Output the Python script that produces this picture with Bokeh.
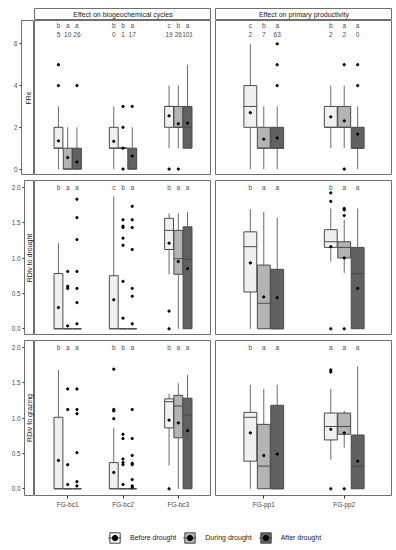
import math
from bokeh.plotting import figure
from bokeh.layouts import column, row, Spacer
from bokeh.models import (Label, FixedTicker, PrintfTickFormatter, Legend,
                          LegendItem, ColumnDataSource, Range1d)
from bokeh.core.properties import value
from bokeh.embed import file_html
from bokeh.resources import INLINE

# ---------------- data ----------------
effects = ["Effect on biogeochemical cycles", "Effect on primary productivity"]
effect_categories = [["FG-bc1", "FG-bc2", "FG-bc3"], ["FG-pp1", "FG-pp2"]]
treatments = ["Before drought", "During drought", "After drought"]
responses = ["FRe", "RDiv to drought", "RDiv to grazing"]

fre_ticks = [0, 2, 4, 6]
rdiv_ticks = [0.0, 0.5, 1.0, 1.5, 2.0]

# order: bc1 (B,D,A) | bc2 | bc3 | pp1 | pp2
fre_lower = [0, 0, 0, 0, 1, 0, 1, 1, 1, 0, 0, 0, 1, 1, 0]
fre_q1 = [1, 0, 0, 1, 1, 0, 2, 2, 1, 2, 1, 1, 2, 2, 1]
fre_med = [1, 0, 0, 1, 1, 0, 3, 2, 2, 3, 1, 1, 2, 2, 1]
fre_q3 = [2, 1, 1, 2, 1, 1, 3, 3, 3, 4, 2, 2, 3, 3, 2]
fre_upper = [3, 2, 2, 3, 1, 2, 4, 4, 5, 6, 3, 3, 4, 4, 3]
fre_mean = [1.35, 0.55, 0.34, 1.33, 1.0, 0.62, 2.55, 2.17, 2.2,
            2.7, 1.43, 1.49, 2.5, 2.31, 1.67]
fre_out = [[4, 5], [], [4], [], [0, 2, 3], [3], [0], [0], [],
           [], [], [4, 5, 6], [], [0, 5], [4, 5]]
fre_letters = ["b", "a", "a", "b", "b", "a", "c", "b", "a",
               "c", "b", "a", "b", "a", "a"]
fre_n = ["5", "10", "26", "0", "1", "17", "19", "26", "101",
         "2", "7", "63", "2", "2", "0"]

dr_lower = [0, 0, 0, 0, 0, 0, 0.77, 0, 0, 0, 0, 0, 0.95, 0.79, 0]
dr_q1 = [0, 0, 0, 0, 0, 0, 1.12, 0.77, 0, 0.52, 0, 0, 1.15, 1.0, 0]
dr_med = [0, 0, 0, 0, 0, 0, 1.39, 0.99, 0.98, 1.16, 0.36, 0, 1.23, 1.15, 0.78]
dr_q3 = [0.78, 0, 0, 0.75, 0, 0, 1.56, 1.39, 1.44, 1.37, 0.90, 0.84, 1.40, 1.23, 1.15]
dr_upper = [1.21, 0, 0, 1.87, 0, 0, 1.63, 1.63, 1.65, 1.69, 1.65, 1.57, 1.70, 1.54, 1.70]
dr_mean = [0.30, 0.04, 0.07, 0.41, 0.15, 0.07, 1.21, 0.95, 0.85,
           0.93, 0.45, 0.44, 1.16, 1.0, 0.57]
dr_out = [[], [0.57, 0.60, 0.81], [0.37, 0.57, 0.81, 1.26, 1.57, 1.83],
          [], [0.67, 1.18, 1.28, 1.43, 1.45, 1.54], [0.46, 0.57, 1.12, 1.43, 1.54, 1.73],
          [0, 0.25], [], [],
          [], [], [],
          [0, 1.80, 1.92], [0, 1.60, 1.68, 1.70], []]
dr_letters = ["b", "a", "a", "c", "b", "a", "b", "a", "a",
              "b", "a", "a", "b", "a", "a"]

gr_lower = [0, 0, 0, 0, 0, 0, 0.33, 0, 0, 0, 0, 0, 0.41, 0.58, 0]
gr_q1 = [0, 0, 0, 0, 0, 0, 0.86, 0.72, 0, 0.39, 0, 0, 0.69, 0.77, 0]
gr_med = [0, 0, 0, 0, 0, 0, 1.23, 1.17, 1.04, 1.01, 0.32, 0, 0.88, 0.88, 0.32]
gr_q3 = [1.01, 0, 0, 0.37, 0, 0, 1.27, 1.32, 1.28, 1.08, 0.91, 1.18, 1.07, 1.07, 0.76]
gr_upper = [1.68, 0, 0, 0.86, 0, 0, 1.34, 1.49, 1.61, 1.47, 1.41, 1.47, 1.41, 1.10, 1.73]
gr_mean = [0.40, 0.06, 0.04, 0.23, 0.06, 0.02, 0.97, 0.93, 0.82,
           0.79, 0.47, 0.49, 0.84, 0.79, 0.39]
gr_out = [[], [0.34, 1.12, 1.41], [0.10, 0.51, 1.06, 1.12, 1.41],
          [0.99, 1.10, 1.12, 1.69], [0.34, 0.37, 0.42, 0.71, 0.77],
          [0.04, 0.13, 0.34, 0.36, 0.47, 0.71, 1.12],
          [0], [], [],
          [], [], [],
          [0, 1.65, 1.68], [0], []]
gr_letters = ["b", "a", "a", "b", "b", "a", "b", "a", "a",
              "b", "a", "a", "a", "a", "a"]

row_stats = [
    dict(lo=fre_lower, q1=fre_q1, med=fre_med, q3=fre_q3, hi=fre_upper,
         mean=fre_mean, out=fre_out, letters=fre_letters, n=fre_n),
    dict(lo=dr_lower, q1=dr_q1, med=dr_med, q3=dr_q3, hi=dr_upper,
         mean=dr_mean, out=dr_out, letters=dr_letters, n=None),
    dict(lo=gr_lower, q1=gr_q1, med=gr_med, q3=gr_q3, hi=gr_upper,
         mean=gr_mean, out=gr_out, letters=gr_letters, n=None),
]

# ---------------- style ----------------
FONT = "Liberation Sans"
FILLS = ["#f0f0f0", "#b4b4b4", "#616161"]
OUTLINE = "#4a4a4a"
WHISK = "#6a6a6a"
BORDER = "#707070"
TXT = "#4d4d4d"

PAD = 8
STRIP_W = 26
PANEL_W = 177
GAP = 4
TOP_H = 12
PANEL_H = 155
ROW_GAP = 5
BOTTOM = 15
LEG_H = 38
TOTAL_W = STRIP_W + PANEL_W + GAP + PANEL_W

DODGE = 0.167
BOX_W = 0.16
PT = 2.3

y_ranges = [(-0.31, 7.12), (-0.095, 2.095), (-0.095, 2.095)]
letter_y = [6.9, 2.0, 2.0]
number_y = 6.45


def top_strip(title):
    s = figure(width=PANEL_W, height=TOP_H, x_range=(0, 1), y_range=(0, 1),
               toolbar_location=None, output_backend="svg", min_border=0,
               x_axis_location=None, y_axis_location=None,
               outline_line_color=BORDER)
    s.grid.visible = False
    s.add_layout(Label(x=0.5, y=0.5, text=title, text_align="center",
                       text_baseline="middle", text_font=FONT,
                       text_font_size="7px", text_color="#1a1a1a"))
    return s


def side_strip(r, yr, height, bottom):
    s = figure(width=STRIP_W, height=height, x_range=(0, 1), y_range=yr,
               toolbar_location=None, output_backend="svg", min_border=0,
               min_border_left=13, min_border_bottom=bottom,
               x_axis_location=None, y_axis_location="left",
               outline_line_color=BORDER)
    s.grid.visible = False
    ax = s.yaxis[0]
    if r == 0:
        ax.ticker = FixedTicker(ticks=fre_ticks)
    else:
        ax.ticker = FixedTicker(ticks=rdiv_ticks)
        ax.formatter = PrintfTickFormatter(format="%.1f")
    ax.axis_line_color = None
    ax.major_tick_in = 0
    ax.major_tick_out = 2
    ax.minor_tick_line_color = None
    ax.major_tick_line_color = "#333333"
    ax.major_label_standoff = 2
    ax.major_label_text_font = FONT
    ax.major_label_text_font_size = "6.3px"
    ax.major_label_text_color = TXT
    mid = (yr.start + yr.end) / 2
    s.add_layout(Label(x=0.5, y=mid, text=responses[r], angle=math.pi / 2,
                       text_align="center", text_baseline="middle",
                       text_font=FONT, text_font_size="7px",
                       text_color="#1a1a1a"))
    return s


def panel(r, col, yr, height, bottom):
    cats = effect_categories[col]
    n = len(cats)
    p = figure(width=PANEL_W, height=height, x_range=(0.4, n + 0.6), y_range=yr,
               toolbar_location=None, output_backend="svg", min_border=0,
               min_border_bottom=bottom, y_axis_location=None,
               x_axis_location=("below" if bottom else None),
               outline_line_color=BORDER)
    p.grid.visible = False
    st = row_stats[r]
    base = 0 if col == 0 else 3
    d = dict(x=[], x0=[], x1=[], lo=[], q1=[], med=[], q3=[], hi=[], mean=[],
             fill=[], letter=[], ly=[], num=[], ny=[])
    ox, oy = [], []
    for ci in range(n):
        for ti in range(3):
            i = (base + ci) * 3 + ti
            x = ci + 1 + (ti - 1) * DODGE
            d["x"].append(x)
            d["x0"].append(x - BOX_W / 2)
            d["x1"].append(x + BOX_W / 2)
            for k in ("lo", "q1", "med", "q3", "hi", "mean"):
                d[k].append(st[k][i])
            d["fill"].append(FILLS[ti])
            d["letter"].append(st["letters"][i])
            d["ly"].append(letter_y[r])
            d["num"].append(st["n"][i] if st["n"] else "")
            d["ny"].append(number_y)
            for v in st["out"][i]:
                ox.append(x)
                oy.append(v)
    src = ColumnDataSource(d)
    p.segment(x0="x", y0="q3", x1="x", y1="hi", source=src,
              line_color=WHISK, line_width=1)
    p.segment(x0="x", y0="lo", x1="x", y1="q1", source=src,
              line_color=WHISK, line_width=1)
    p.vbar(x="x", width=BOX_W, top="q3", bottom="q1", source=src,
           fill_color="fill", line_color=OUTLINE, line_width=1)
    p.segment(x0="x0", y0="med", x1="x1", y1="med", source=src,
              line_color=OUTLINE, line_width=1)
    p.scatter(x="x", y="mean", source=src, size=PT, color="black")
    p.scatter(ox, oy, size=PT, color="black")
    p.text(x="x", y="ly", text="letter", source=src, text_align="center",
           text_baseline="middle", text_font=value(FONT),
           text_font_size="6.5px", text_color=TXT)
    if st["n"]:
        p.text(x="x", y="ny", text="num", source=src, text_align="center",
               text_baseline="middle", text_font=value(FONT),
               text_font_size="6.5px", text_color=TXT)
    if bottom:
        ax = p.xaxis[0]
        ax.ticker = FixedTicker(ticks=list(range(1, n + 1)))
        ax.major_label_overrides = {k + 1: c for k, c in enumerate(cats)}
        ax.axis_line_color = None
        ax.major_tick_in = 0
        ax.major_tick_out = 3
        ax.minor_tick_line_color = None
        ax.major_tick_line_color = "#333333"
        ax.major_label_standoff = 2
        ax.major_label_text_font = FONT
        ax.major_label_text_font_size = "6.5px"
        ax.major_label_text_color = TXT
    return p


children = [row(Spacer(width=STRIP_W, height=TOP_H), top_strip(effects[0]),
                Spacer(width=GAP, height=TOP_H), top_strip(effects[1]))]
for r in range(3):
    last = (r == 2)
    bottom = BOTTOM if last else 0
    h = PANEL_H + bottom
    yr = Range1d(*y_ranges[r])
    children.append(row(side_strip(r, yr, h, bottom),
                        panel(r, 0, yr, h, bottom),
                        Spacer(width=GAP, height=h),
                        panel(r, 1, yr, h, bottom)))
    if not last:
        children.append(Spacer(width=TOTAL_W, height=ROW_GAP))

# legend
lg = figure(width=TOTAL_W, height=LEG_H, x_range=(0, 1), y_range=(0, 1),
            toolbar_location=None, output_backend="svg", min_border=0,
            x_axis_location=None, y_axis_location=None, outline_line_color=None)
lg.grid.visible = False
items = []
for ti, t in enumerate(treatments):
    nsrc = ColumnDataSource(dict(x=[float("nan")], y=[float("nan")]))
    rw = lg.vspan(x="x", source=nsrc, line_color=WHISK, line_width=1)
    rb = lg.vbar(x="x", top="y", bottom="y", width=0.1, source=nsrc,
                 fill_color=FILLS[ti], line_color=OUTLINE, line_width=1)
    rm = lg.segment(x0="x", y0="y", x1="x", y1="y", source=nsrc,
                    line_color=OUTLINE, line_width=1)
    rp = lg.scatter(x="x", y="y", source=nsrc, size=PT, marker="circle",
                    line_color="black", fill_color="black")
    items.append(LegendItem(label=t, renderers=[rw, rb, rm, rp]))
legend = Legend(items=items, orientation="horizontal", location=(100, 4),
                glyph_width=13, glyph_height=13, label_standoff=9, spacing=7,
                padding=1, margin=0, border_line_color=None,
                background_fill_alpha=0, label_text_font=FONT,
                label_text_font_size="7px", label_text_color="#1a1a1a")
lg.add_layout(legend)
children.append(lg)

inner = column(*children)
layout = column(Spacer(width=TOTAL_W + PAD, height=PAD),
                row(Spacer(width=PAD, height=10), inner))
open("out.html", "w").write(file_html(layout, INLINE, title="chart"))
